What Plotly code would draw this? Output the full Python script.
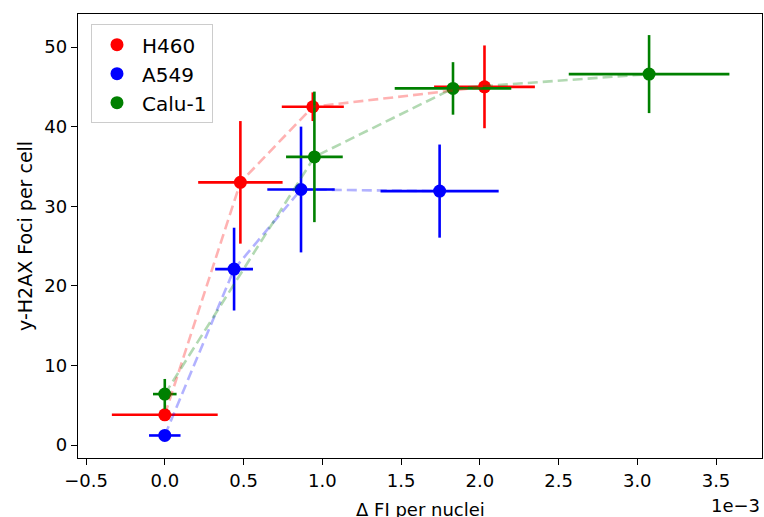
import plotly.graph_objects as go

# x values in units of 1e-3 (Delta FI per nuclei)
h460_x = [0.0, 0.48, 0.94, 2.03]
h460_y = [3.8, 33.0, 42.5, 45.0]
h460_xerr = [0.336, 0.268, 0.197, 0.32]
h460_yerr = [0.3, 7.7, 1.8, 5.2]

a549_x = [0.0, 0.44, 0.865, 1.745]
a549_y = [1.2, 22.1, 32.1, 31.9]
a549_xerr = [0.10, 0.12, 0.214, 0.375]
a549_yerr = [0.3, 5.2, 7.9, 5.85]

calu_x = [0.0, 0.95, 1.83, 3.075]
calu_y = [6.4, 36.2, 44.8, 46.6]
calu_xerr = [0.075, 0.18, 0.37, 0.51]
calu_yerr = [1.9, 8.2, 3.3, 4.9]

series = [
    ("H460", h460_x, h460_y, h460_xerr, h460_yerr, "#ff0000", "rgba(255,0,0,0.3)"),
    ("A549", a549_x, a549_y, a549_xerr, a549_yerr, "#0000ff", "rgba(0,0,255,0.3)"),
    ("Calu-1", calu_x, calu_y, calu_xerr, calu_yerr, "#008000", "rgba(0,128,0,0.3)"),
]

x_ticks = [-0.5, 0.0, 0.5, 1.0, 1.5, 2.0, 2.5, 3.0, 3.5]
y_ticks = [0, 10, 20, 30, 40, 50]

FONT = "DejaVu Sans"
fig = go.Figure()

for name, x, y, xe, ye, col, lcol in series:
    fig.add_trace(go.Scatter(
        x=x, y=y, mode="markers",
        marker=dict(color=col, size=13),
        error_x=dict(type="data", array=xe, color=col, thickness=2.6, width=0),
        error_y=dict(type="data", array=ye, color=col, thickness=2.6, width=0),
        name=name,
    ))

for name, x, y, xe, ye, col, lcol in series:
    fig.add_trace(go.Scatter(
        x=x, y=y, mode="lines",
        line=dict(color=lcol, width=2.6, dash="10px,5px"),
        showlegend=False, hoverinfo="skip",
    ))

axis_common = dict(
    showgrid=False, zeroline=False, showline=True, linecolor="black",
    linewidth=1.3, mirror=True, ticks="outside", ticklen=6, tickwidth=1.3,
    tickcolor="black", tickfont=dict(family=FONT, size=18, color="black"),
)

fig.update_layout(
    width=764, height=517,
    margin=dict(l=78, r=2, t=14, b=59),
    paper_bgcolor="white", plot_bgcolor="white",
    font=dict(family=FONT, size=18, color="black"),
    xaxis=dict(range=[-0.551, 3.792], tickvals=x_ticks,
               ticktext=["\u22120.5"] + [f"{v:.1f}" for v in x_ticks[1:]], **axis_common),
    yaxis=dict(range=[-1.63, 54.15], tickvals=y_ticks, **axis_common),
    legend=dict(x=0.019, y=0.977, xanchor="left", yanchor="top",
                bgcolor="white", bordercolor="#cccccc", borderwidth=1,
                font=dict(family=FONT, size=20), itemwidth=40),
    showlegend=True,
    annotations=[
        dict(text="\u0394 FI per nuclei", xref="paper", yref="paper", x=0.5, y=-0.117,
             xanchor="center", yanchor="middle", showarrow=False,
             font=dict(family=FONT, size=18)),
        dict(text="1e\u22123", xref="paper", yref="paper", x=1.0, y=-0.108,
             xanchor="right", yanchor="middle", showarrow=False,
             font=dict(family=FONT, size=18)),
        dict(text="y-H2AX Foci per cell", xref="paper", yref="paper", x=-0.0775, y=0.5,
             xanchor="center", yanchor="middle", textangle=-90, showarrow=False,
             font=dict(family=FONT, size=19)),
    ],
)

fig.write_html("out.html")
